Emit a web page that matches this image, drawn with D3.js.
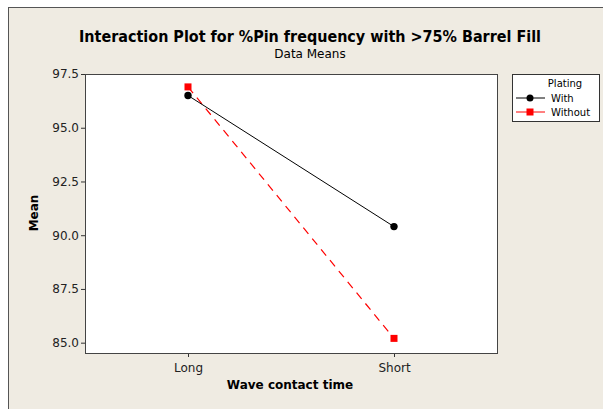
<!DOCTYPE html>
<html>
<head>
<meta charset="utf-8">
<script src="https://cdn.jsdelivr.net/npm/d3@7"></script>
<style>
  body { margin: 0; background: #fff; }
  text { font-family: "DejaVu Sans", Verdana, sans-serif; }
</style>
</head>
<body>
<script>
// data
const categories = ["Long", "Short"];
const withPlating = [96.5, 90.4];
const withoutPlating = [96.9, 85.2];
const yTicks = [85.0, 87.5, 90.0, 92.5, 95.0, 97.5];

const W = 603, H = 409;
const plot = {left: 85, top: 74, right: 497, bottom: 353};

const svg = d3.select("body").append("svg")
    .attr("width", W)
    .attr("height", H);

// beige frame
svg.append("rect")
    .attr("x", 8.5).attr("y", 7.5)
    .attr("width", W).attr("height", H)
    .attr("fill", "#efebe2")
    .attr("stroke", "#555")
    .attr("stroke-width", 1);

svg.append("rect")
    .attr("x", plot.left).attr("y", plot.top)
    .attr("width", plot.right - plot.left).attr("height", plot.bottom - plot.top)
    .attr("fill", "#fff");

const x = d3.scalePoint()
    .domain(categories)
    .range([plot.left, plot.right])
    .padding(0.5);

const y = d3.scaleLinear()
    .domain([84.52, 97.5])
    .range([plot.bottom, plot.top]);

// axes
const yAxis = svg.append("g")
    .attr("transform", "translate(" + plot.left + ",0)")
    .call(d3.axisLeft(y).tickValues(yTicks).tickFormat(d3.format(".1f")).tickSize(4).tickSizeOuter(0));
const xAxis = svg.append("g")
    .attr("transform", "translate(0," + plot.bottom + ")")
    .call(d3.axisBottom(x).tickSize(4).tickSizeOuter(0));
[xAxis, yAxis].forEach(function(g) {
  g.select(".domain").remove();
  g.selectAll("line").attr("stroke", "#333");
  g.selectAll("text").attr("font-size", 12).attr("fill", "#222");
});
yAxis.selectAll("text").attr("x", -6);
xAxis.selectAll("text").attr("y", 10);

// plot border
svg.append("rect")
    .attr("x", plot.left + 0.5).attr("y", plot.top + 0.5)
    .attr("width", plot.right - plot.left).attr("height", plot.bottom - plot.top)
    .attr("fill", "none")
    .attr("stroke", "#444");

// series
const line = d3.line()
    .x(function(d, i) { return x(categories[i]); })
    .y(function(d) { return y(d); });

svg.append("path")
    .datum(withoutPlating)
    .attr("d", line)
    .attr("fill", "none")
    .attr("stroke", "#ff0000")
    .attr("stroke-width", 1.2)
    .attr("stroke-dasharray", "8,6");

svg.append("path")
    .datum(withPlating)
    .attr("d", line)
    .attr("fill", "none")
    .attr("stroke", "#000")
    .attr("stroke-width", 1);

svg.selectAll(".sq")
    .data(withoutPlating)
    .join("rect")
    .attr("x", function(d, i) { return x(categories[i]) - 3.5; })
    .attr("y", function(d) { return y(d) - 3.5; })
    .attr("width", 7).attr("height", 7)
    .attr("fill", "#ff0000");

svg.selectAll(".dot")
    .data(withPlating)
    .join("circle")
    .attr("cx", function(d, i) { return x(categories[i]); })
    .attr("cy", function(d) { return y(d); })
    .attr("r", 3.7)
    .attr("fill", "#000");

// titles
svg.append("text")
    .attr("x", 310).attr("y", 42)
    .attr("text-anchor", "middle")
    .attr("font-size", 15).attr("font-weight", "bold")
    .attr("textLength", 462)
    .attr("lengthAdjust", "spacingAndGlyphs")
    .text("Interaction Plot for %Pin frequency with >75% Barrel Fill");
svg.append("text")
    .attr("x", 310).attr("y", 58)
    .attr("text-anchor", "middle")
    .attr("font-size", 12)
    .text("Data Means");
svg.append("text")
    .attr("x", 290).attr("y", 389)
    .attr("text-anchor", "middle")
    .attr("font-size", 12).attr("font-weight", "bold")
    .text("Wave contact time");
svg.append("text")
    .attr("transform", "translate(38,213) rotate(-90)")
    .attr("text-anchor", "middle")
    .attr("font-size", 12).attr("font-weight", "bold")
    .text("Mean");

// legend
const lg = svg.append("g");
lg.append("rect")
    .attr("x", 512.5).attr("y", 74.5)
    .attr("width", 87).attr("height", 47)
    .attr("fill", "#fff")
    .attr("stroke", "#333");
lg.append("text")
    .attr("x", 565).attr("y", 87)
    .attr("text-anchor", "middle")
    .attr("font-size", 10)
    .text("Plating");
const items = [
  {name: "With", color: "#000", shape: "circle"},
  {name: "Without", color: "#ff0000", shape: "square"}
];
items.forEach(function(it, i) {
  const yy = 98 + i * 14;
  lg.append("line")
      .attr("x1", 516).attr("x2", 545)
      .attr("y1", yy).attr("y2", yy)
      .attr("stroke", it.color);
  if (it.shape === "circle") {
    lg.append("circle").attr("cx", 530).attr("cy", yy).attr("r", 3.5).attr("fill", it.color);
  } else {
    lg.append("rect").attr("x", 526.5).attr("y", yy - 3.5).attr("width", 7).attr("height", 7).attr("fill", it.color);
  }
  lg.append("text")
      .attr("x", 551).attr("y", yy + 4)
      .attr("font-size", 10)
      .text(it.name);
});
</script>
</body>
</html>
